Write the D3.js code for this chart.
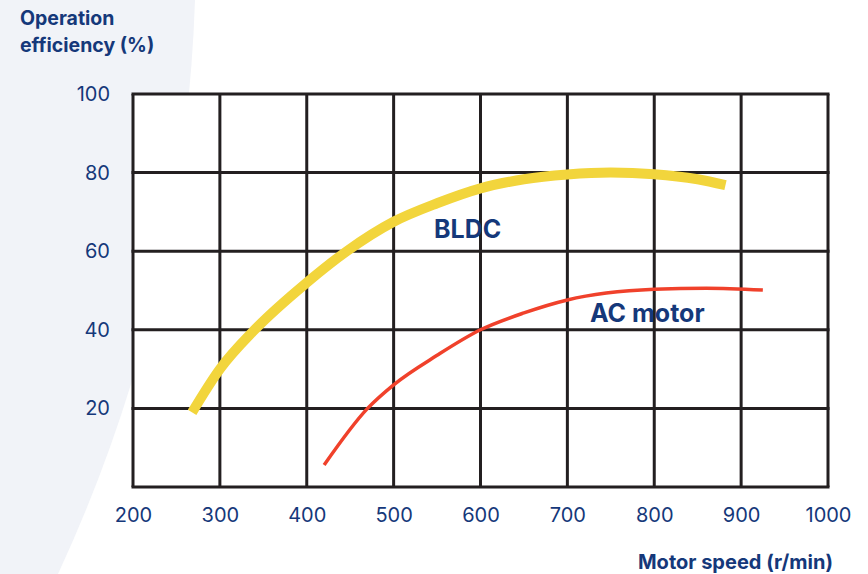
<!DOCTYPE html>
<html><head><meta charset="utf-8">
<script src="https://cdn.jsdelivr.net/npm/d3@7"></script>
<style>body{margin:0;background:#fff;}svg{display:block;font-family:Inter,"Noto Sans",sans-serif;}</style>
</head><body>
<svg id="c" width="868" height="574"></svg>
<script>
const xTicks = [200,300,400,500,600,700,800,900,1000];
const yTicks = [20,40,60,80,100];
const bldcSpeed = [268,300,340,400,446,500,550,600,650,700,750,800,850,882];
const bldcEff   = [19,30,40,52,60,67.5,72.2,76,78.3,79.5,80,79.6,78.3,76.8];
const acSpeed = [420,470,500,550,600,650,700,800,860,925];
const acEff   = [5.6,20,26,33.5,40,44.3,47.6,50.3,50.6,50.1];
const svg = d3.select('#c');
const navy = '#15387a';
svg.append('path').attr('d','M0,0 L195,0 Q185,300 58,574 L0,574 Z').attr('fill','#f1f3f8');
const x = d3.scaleLinear().domain([200,1000]).range([133,828]);
const y = d3.scaleLinear().domain([0,100]).range([487,94]);
const grid = '#231f20';
const g = svg.append('g');
g.append('rect').attr('x',x(200)).attr('y',y(100)).attr('width',x(1000)-x(200)).attr('height',y(0)-y(100)).attr('fill','#fff');
xTicks.forEach(t=>g.append('line').attr('x1',x(t)).attr('x2',x(t)).attr('y1',y(0)).attr('y2',y(100)).attr('stroke',grid).attr('stroke-width',3));
[0].concat(yTicks).forEach(t=>g.append('line').attr('x1',x(200)-1.5).attr('x2',x(1000)+1.5).attr('y1',y(t)).attr('y2',y(t)).attr('stroke',grid).attr('stroke-width',3));
const yAxis = d3.axisLeft(y).tickValues(yTicks).tickSize(0).tickPadding(23).tickFormat(d3.format('d'));
const ya = svg.append('g').attr('transform',`translate(${x(200)},0)`).call(yAxis);
ya.select('.domain').remove();
ya.selectAll('text').attr('fill',navy).style('font-size','20px').style('font-family','Inter,"Noto Sans",sans-serif');
const xAxis = d3.axisBottom(x).tickValues(xTicks).tickSize(0).tickPadding(21).tickFormat(d3.format('d'));
const xa = svg.append('g').attr('transform',`translate(0,${y(0)})`).call(xAxis);
xa.select('.domain').remove();
xa.selectAll('text').attr('fill',navy).style('font-size','20px').style('font-family','Inter,"Noto Sans",sans-serif');
const line = d3.line().curve(d3.curveMonotoneX);
svg.append('path').attr('d',line(bldcSpeed.map((s,i)=>[x(s),y(bldcEff[i])]))).attr('fill','none').attr('stroke','#f2d53c').attr('stroke-width',10);
svg.append('path').attr('d',line(acSpeed.map((s,i)=>[x(s),y(acEff[i])]))).attr('fill','none').attr('stroke','#f0412b').attr('stroke-width',3.5);
const lab = (t,xx,yy,sz,anchor='start')=>svg.append('text').attr('x',xx).attr('y',yy).attr('fill',navy).attr('font-weight',700).attr('font-size',sz).attr('text-anchor',anchor).text(t);
lab('BLDC',434,238,25);
lab('AC motor',590,322,25);
lab('Operation',20,25,19.5);
lab('efficiency (%)',20,52,19.5);
lab('Motor speed (r/min)',833,569,20,'end');
</script>
</body></html>
